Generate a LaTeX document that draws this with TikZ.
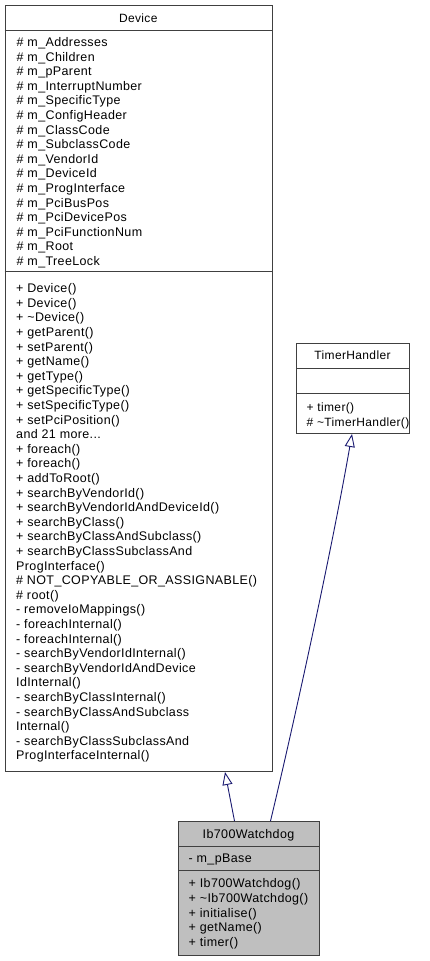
\documentclass[tikz,border=0pt]{standalone}
\usepackage{fontspec}
\setmainfont{Liberation Sans}[LetterSpace=3.0]
\usetikzlibrary{arrows.meta}
\definecolor{edgeblue}{HTML}{191970}
\definecolor{boxline}{HTML}{404040}
\definecolor{boxgray}{HTML}{BFBFBF}
\newcommand\mydots{...}
\begin{document}
\begin{tikzpicture}[x=1pt,y=-1pt,
  box/.style={draw=boxline, line width=1pt, inner sep=0pt, anchor=north west, fill=white},
  sep/.style={draw=boxline, line width=1pt},
  txt/.style={inner sep=0pt, anchor=base west, font=\fontsize{12.5}{14.6}\selectfont},
  ttl/.style={inner sep=0pt, anchor=base, font=\fontsize{12.5}{14.6}\selectfont},
  small/.style={font=\fontsize{12}{14.6}\selectfont},
  inh/.style={draw=edgeblue, line width=0.9pt, -{Triangle[open, length=13pt, width=10pt]}}]
\useasboundingbox (0,0) rectangle (429,961);
% ---------- Device ----------
\node[box, minimum width=267.5pt, minimum height=766pt] (dev) at (4.5,5) {};
\draw[sep] (dev.west |- 0,30) -- (dev.east |- 0,30);
\draw[sep] (dev.west |- 0,271) -- (dev.east |- 0,271);
\node[ttl, small] (devt) at (138.25,22.5) {Device};
\foreach \t [count=\i] in {
  \# m\_Addresses, \# m\_Children, \# m\_pParent, \# m\_InterruptNumber,
  \# m\_SpecificType, \# m\_ConfigHeader, \# m\_ClassCode, \# m\_SubclassCode,
  \# m\_VendorId, \# m\_DeviceId, \# m\_ProgInterface, \# m\_PciBusPos,
  \# m\_PciDevicePos, \# m\_PciFunctionNum, \# m\_Root, \# m\_TreeLock}
  \node[txt] (da\i) at ({16.5},{46.5+14.6*(\i-1)}) {\t};
\foreach \t [count=\i] in {
  + Device(), + Device(), + \textasciitilde Device(), + getParent(), + setParent(),
  + getName(), + getType(), + getSpecificType(), + setSpecificType(),
  + setPciPosition(), and 21 more\mydots, + foreach(), + foreach(), + addToRoot(),
  + searchByVendorId(), + searchByVendorIdAndDeviceId(), + searchByClass(),
  + searchByClassAndSubclass(), + searchByClassSubclassAnd, ProgInterface(),
  \# NOT\_COPYABLE\_OR\_ASSIGNABLE(), \# root(), - removeIoMappings(),
  - foreachInternal(), - foreachInternal(), - searchByVendorIdInternal(),
  - searchByVendorIdAndDevice, IdInternal(), - searchByClassInternal(),
  - searchByClassAndSubclass, Internal(), - searchByClassSubclassAnd,
  ProgInterfaceInternal()}
  \node[txt] (dm\i) at ({16},{292.7+14.6*(\i-1)}) {\t};
% ---------- TimerHandler ----------
\node[box, minimum width=113pt, minimum height=90pt] (th) at (296,343) {};
\draw[sep] (th.west |- 0,368) -- (th.east |- 0,368);
\draw[sep] (th.west |- 0,393) -- (th.east |- 0,393);
\node[ttl, small] (tht) at (352.5,359.5) {TimerHandler};
\node[txt, small] (thm1) at (306.5,411.5) {+ timer()};
\node[txt, small] (thm2) at (306.5,426) {\# \textasciitilde TimerHandler()};
% ---------- Ib700Watchdog ----------
\node[box, fill=boxgray, minimum width=141pt, minimum height=134pt] (ib) at (178,821) {};
\draw[sep] (ib.west |- 0,846) -- (ib.east |- 0,846);
\draw[sep] (ib.west |- 0,870) -- (ib.east |- 0,870);
\node[ttl] (ibt) at (248.5,838) {Ib700Watchdog};
\node[txt] (iba1) at (188.5,862.5) {- m\_pBase};
\foreach \t [count=\i] in {
  + Ib700Watchdog(), + \textasciitilde Ib700Watchdog(), + initialise(), + getName(), + timer()}
  \node[txt] (ibm\i) at ({188.5},{887.5+14.8*(\i-1)}) {\t};
% ---------- connectors ----------
\draw[inh] ([xshift=-14.5pt]ib.north) -- ([xshift=86.25pt]dev.south);
\draw[inh] ([xshift=21.5pt]ib.north) .. controls (290,740) and (330,560) .. ([xshift=-1pt]th.south);
\end{tikzpicture}
\end{document}
